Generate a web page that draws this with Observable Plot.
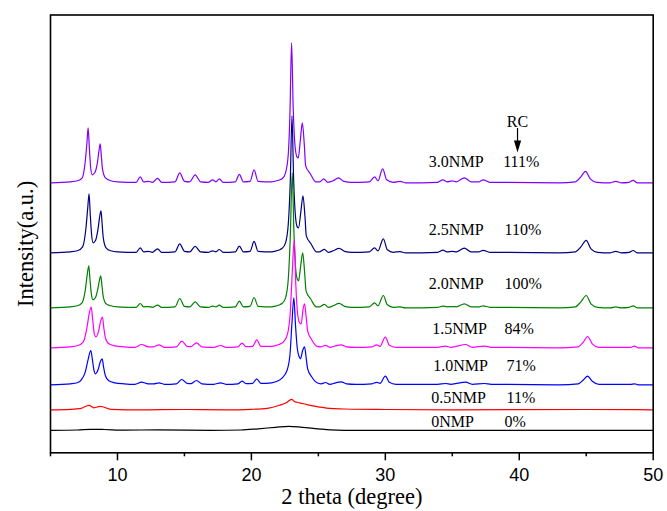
<!DOCTYPE html>
<html>
<head>
<meta charset="utf-8">
<script src="https://cdn.jsdelivr.net/npm/d3@7"></script>
<script src="https://cdn.jsdelivr.net/npm/@observablehq/plot@0.6"></script>
<style>
  html, body { margin: 0; padding: 0; background: #ffffff; }
  #chart svg { display: block; }
</style>
</head>
<body>
<div id="chart"></div>
<script>
// ---------- data (2θ in degrees, intensity in a.u. above each pattern's own baseline) ----------
const samples = ["3.0NMP", "2.5NMP", "2.0NMP", "1.5NMP", "1.0NMP", "0.5NMP", "0NMP"];
const rcValues = ["111%", "110%", "100%", "84%", "71%", "11%", "0%"];
const stackOffsets = [270, 200, 145, 105, 68, 43, 22.5];
const majorTicks = [10, 20, 30, 40, 50];
const minorTicks = [5, 15, 25, 35, 45];

const nmp30 = [[5.0,0],[6.5,1],[7.0,2],[7.37,5],[7.6,22],[7.72,40],[7.81,55],[7.9,35],[8.0,15],[8.11,8],[8.3,10],[8.5,20],[8.62,32],[8.71,39],[8.8,26],[8.88,14],[9.1,5],[9.5,2],[10.0,1],[11.4,0.5],[11.7,6],[11.95,1],[12.3,1.5],[12.6,0.5],[13.0,4.5],[13.3,0.5],[14.3,1],[14.65,10],[15.0,1.5],[15.4,1],[15.8,8],[16.2,1],[16.8,0.5],[17.1,3],[17.35,1],[17.6,4],[17.9,0.5],[18.8,1],[19.1,8.5],[19.4,1],[19.9,1.5],[20.2,13],[20.5,1.5],[21.5,1],[22.0,2.5],[22.3,4],[22.55,10],[22.75,28],[22.88,70],[23.0,140],[23.12,75],[23.25,38],[23.4,26],[23.5,25],[23.65,42],[23.8,60],[23.95,38],[24.05,17],[24.4,9],[24.8,1],[25.1,1],[25.4,4],[25.7,0.5],[26.1,2],[26.5,5],[26.9,1.5],[27.5,0.5],[28.8,1],[29.2,6],[29.45,2],[29.8,14],[30.1,3],[30.6,0.5],[31.1,1.5],[31.5,0],[33.9,0.5],[34.3,3],[34.6,1],[35.0,2],[35.3,1],[35.9,5],[36.4,1],[37.0,1],[37.3,3],[37.8,0.5],[43.0,0],[44.2,1],[44.6,6],[44.95,11.5],[45.3,4],[45.8,0.5],[46.8,0],[47.2,1.5],[47.6,0],[48.2,0.5],[48.5,2.5],[48.8,0],[50.0,0]];

const nmp25 = [[5.0,0],[6.5,1],[7.0,2],[7.4,6],[7.65,25],[7.78,45],[7.88,59],[7.97,38],[8.07,18],[8.18,10],[8.35,12],[8.55,24],[8.67,36],[8.77,42],[8.86,28],[8.94,15],[9.15,5],[9.5,2],[10.0,1],[11.4,0.5],[11.7,5],[11.95,1],[12.3,1.5],[12.6,0.5],[13.0,4],[13.3,0.5],[14.3,1],[14.65,9],[15.0,1.5],[15.4,1],[15.8,6.5],[16.2,1],[16.8,0.5],[17.1,2],[17.35,1],[17.6,3.3],[17.9,0.5],[18.8,1],[19.1,6.7],[19.4,1],[19.9,1.5],[20.2,11.5],[20.5,1.5],[21.5,1],[22.0,2.5],[22.3,4.5],[22.55,10],[22.75,28],[22.9,70],[23.03,137],[23.15,75],[23.28,38],[23.42,26],[23.52,25],[23.7,42],[23.85,57],[24.0,36],[24.1,17],[24.45,9],[24.85,1],[25.1,1],[25.45,3.5],[25.75,0.5],[26.1,2],[26.55,4.5],[26.95,1.5],[27.5,0.5],[28.8,1],[29.2,5],[29.45,2],[29.85,14],[30.15,3],[30.6,0.5],[31.1,1.2],[31.5,0],[33.9,0.5],[34.3,2.7],[34.6,1],[35.0,1.5],[35.3,1],[35.9,4.7],[36.4,1],[37.0,1],[37.3,2.5],[37.8,0.5],[43.0,0],[44.2,1],[44.6,6],[45.0,12.5],[45.35,4],[45.85,0.5],[46.8,0],[47.2,1.5],[47.6,0],[48.2,0.5],[48.5,2.3],[48.8,0],[50.0,0]];

const nmp20 = [[5.0,0],[6.5,1],[7.0,2],[7.35,5],[7.6,18],[7.75,34],[7.86,42],[7.95,28],[8.05,14],[8.17,8],[8.35,10],[8.55,20],[8.66,28],[8.75,32],[8.85,21],[8.93,12],[9.15,4],[9.5,2],[10.0,1],[11.4,0.5],[11.7,4.3],[11.95,1],[12.3,1.2],[12.6,0.5],[13.0,2.7],[13.3,0.5],[14.3,1],[14.65,9.3],[15.0,1.5],[15.4,1],[15.8,6],[16.2,1],[16.8,0.5],[17.1,1.7],[17.35,1],[17.6,2.7],[17.9,0.5],[18.8,1],[19.1,6.7],[19.4,1],[19.9,1.5],[20.2,10.3],[20.5,1.5],[21.5,1],[22.0,2.5],[22.3,4.5],[22.55,10],[22.75,28],[22.9,70],[23.05,135],[23.17,78],[23.3,40],[23.42,29],[23.52,27],[23.68,42],[23.83,55],[23.97,36],[24.08,17],[24.42,9],[24.85,1],[25.1,1],[25.45,3.5],[25.75,0.5],[26.1,2],[26.55,4.5],[26.95,1.5],[27.5,0.5],[28.8,1],[29.2,5],[29.45,2],[29.85,12.3],[30.15,3],[30.6,0.5],[31.1,1],[31.5,0],[33.9,0.5],[34.3,1.7],[34.6,1],[35.0,1.2],[35.3,1],[35.9,4],[36.4,1],[37.0,1],[37.3,2],[37.8,0.5],[43.0,0],[44.2,1],[44.6,6],[45.0,12.3],[45.35,4],[45.85,0.5],[46.8,0],[47.2,1],[47.6,0],[48.2,0.5],[48.5,2],[48.8,0],[50.0,0]];

const nmp15 = [[5.0,0],[6.5,1],[7.0,2],[7.45,6],[7.72,20],[7.9,35],[8.04,40.7],[8.15,28],[8.27,14],[8.4,11],[8.58,16],[8.75,27],[8.88,30.7],[8.98,20],[9.1,10],[9.35,4],[9.8,2],[10.5,1],[11.3,0.5],[11.8,3.3],[12.3,1],[12.7,1],[13.1,3],[13.5,0.5],[14.4,1],[14.8,6.7],[15.2,1.5],[15.5,1.2],[15.9,5],[16.3,1],[17.2,0.5],[17.7,2.3],[18.1,0.5],[19.0,1],[19.3,4.7],[19.6,1.2],[20.1,1.5],[20.4,8],[20.7,1.5],[21.5,1.5],[22.0,3],[22.4,6],[22.7,14],[22.9,35],[23.05,75],[23.2,108],[23.32,62],[23.45,34],[23.6,25],[23.72,24],[23.85,38],[23.97,44],[24.08,32],[24.2,17],[24.5,8],[24.9,1.5],[25.2,1],[25.55,2.5],[25.85,0.5],[26.3,2],[26.7,3],[27.1,1],[27.8,0.5],[29.0,1],[29.35,3],[29.6,1.5],[30.0,10.7],[30.3,2.5],[30.8,0.5],[33.9,0.5],[34.5,1.7],[34.9,0.5],[36.0,3.3],[36.5,0.5],[37.4,1.7],[37.9,0.5],[43.0,0],[44.4,1],[44.8,6],[45.1,11.3],[45.45,4],[45.95,0.5],[47.3,0.5],[48.3,0.5],[48.6,1.7],[48.9,0],[50.0,0]];

const nmp10 = [[5.0,0],[6.5,1],[7.0,2],[7.3,5],[7.6,13],[7.82,26],[8.01,34.3],[8.12,26],[8.24,15],[8.36,11],[8.55,15],[8.72,23],[8.86,26],[8.96,18],[9.1,9],[9.35,4],[9.8,2],[10.5,1],[11.3,0.5],[11.8,2.7],[12.3,1],[12.7,1],[13.1,2],[13.5,0.5],[14.4,1],[14.8,5.3],[15.2,1.5],[15.5,1.2],[15.9,4.3],[16.3,1],[17.2,0.5],[17.7,2],[18.1,0.5],[19.0,1],[19.3,3.7],[19.6,1.2],[20.1,1.5],[20.4,6],[20.7,1.5],[21.5,2],[22.0,4],[22.3,7],[22.65,14],[22.88,30],[23.02,60],[23.17,87],[23.3,58],[23.43,36],[23.57,28],[23.67,26],[23.82,34],[23.97,38],[24.08,28],[24.2,16],[24.5,8],[24.9,2],[25.2,1],[25.55,2.3],[25.85,0.5],[26.3,2],[26.7,3],[27.1,1],[27.8,0.5],[29.0,1],[29.35,2.5],[29.6,1.5],[30.0,8.7],[30.3,2.5],[30.8,0.5],[33.9,0.5],[34.5,1.3],[34.9,0.5],[36.0,2.7],[36.5,0.5],[37.4,1.3],[37.9,0.5],[43.0,0],[44.4,1],[44.8,5],[45.1,8.7],[45.45,3.5],[45.95,0.5],[47.3,0.5],[48.3,0.5],[48.6,1],[48.9,0],[50.0,0]];

const nmp05 = [[5.0,0],[6.5,0.5],[7.3,1.5],[7.87,4.5],[8.24,2],[8.73,3.5],[9.5,0.5],[12.0,0],[15.0,0.3],[18.0,0],[20.0,0.5],[21.2,1.5],[22.1,4.5],[22.6,7],[23.0,10.5],[23.25,8],[23.6,7],[24.2,5],[25.0,3],[25.6,1.7],[27.0,0.8],[30.0,0.3],[35.0,0],[45.0,0.3],[50.0,0]];

const nmp00 = [[5.0,0],[7.0,0.3],[8.0,1],[9.0,0.8],[10.5,0.2],[13.0,0.4],[17.0,0],[19.2,0.3],[20.5,1.5],[21.8,3],[22.8,4],[23.8,3],[25.0,1.5],[25.9,0.5],[28.0,0],[50.0,0]];

const patterns = [nmp30, nmp25, nmp20, nmp15, nmp10, nmp05, nmp00];
const colors = ["#8000ff", "#000080", "#008000", "#ff00ff", "#0000ff", "#ff0000", "#000000"];

// ---------- chart ----------
const serif = "'Liberation Serif', 'Times New Roman', serif";
const sans = "'Liberation Sans', Arial, sans-serif";

const lineMarks = patterns.map((pts, i) =>
  Plot.line(pts, {
    x: d => d[0],
    y: d => d[1] + stackOffsets[i],
    stroke: colors[i],
    strokeWidth: 1.2,
    curve: "monotone-x"
  })
);

// annotation layout (data coordinates)
const nameX = [33.25, 33.25, 33.25, 33.5, 33.58, 33.43, 33.43];
const rcX = [38.8, 38.9, 38.9, 38.9, 39.05, 39.05, 38.9];
const labelY = [291.4, 222.8, 169.4, 124.4, 87.1, 54.8, 31.1];
const annot = samples.map((s, i) => ({name: s, rc: rcValues[i], nx: nameX[i], rx: rcX[i], y: labelY[i]}));

const arrowHead = {
  draw(ctx) {
    ctx.moveTo(-3.6, -6);
    ctx.lineTo(3.6, -6);
    ctx.lineTo(0, 6);
    ctx.closePath();
  }
};

const chart = Plot.plot({
  width: 667,
  height: 511,
  marginLeft: 50,
  marginRight: 14.3,
  marginTop: 14.5,
  marginBottom: 58.7,
  style: {background: "#ffffff", fontFamily: sans},
  x: {domain: [5, 50], axis: null},
  y: {domain: [0, 437.8], axis: null},
  marks: [
    ...lineMarks,
    Plot.text(annot, {x: "nx", y: "y", text: "name", textAnchor: "start", lineAnchor: "middle", fontSize: 16, fontFamily: serif, fill: "#000"}),
    Plot.text(annot, {x: "rx", y: "y", text: "rc", textAnchor: "start", lineAnchor: "middle", fontSize: 16, fontFamily: serif, fill: "#000"}),
    Plot.text(["RC"], {x: () => 39.87, y: () => 331.1, text: d => d, lineAnchor: "middle", fontSize: 16, fontFamily: serif, fill: "#000"}),
    Plot.ruleX([39.87], {y1: 324.3, y2: 306, stroke: "#000", strokeWidth: 1.2}),
    Plot.dot([39.87], {x: d => d, y: () => 306.3, symbol: arrowHead, fill: "#000", stroke: "none"}),
    Plot.axisX({ticks: minorTicks, tickSize: 4, tickFormat: () => "", label: null, strokeWidth: 1.5}),
    Plot.axisX({ticks: majorTicks, tickSize: 8, tickPadding: 7, label: null, strokeWidth: 1.5, fontSize: 18, fontFamily: sans, tickFormat: d => String(d)}),
    Plot.frame({stroke: "#000", strokeWidth: 1.6}),
    Plot.text(["2 theta (degree)"], {frameAnchor: "bottom", dy: 44, text: d => d, textAnchor: "middle", lineAnchor: "middle", fontSize: 22.5, fontFamily: serif, fill: "#000"}),
    Plot.text(["Intensity(a.u.)"], {frameAnchor: "left", dx: -25, dy: 10, rotate: -90, text: d => d, textAnchor: "middle", lineAnchor: "middle", fontSize: 22.5, fontFamily: serif, fill: "#000"})
  ]
});

document.getElementById("chart").appendChild(chart);
</script>
</body>
</html>
